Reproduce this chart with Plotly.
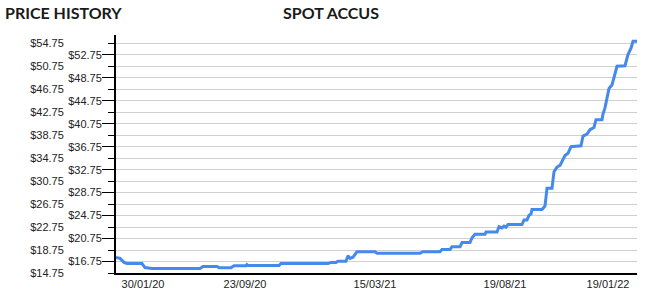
import plotly.graph_objects as go

# observation index (position along the series) and spot price
obs = [0, 4, 8, 11, 26, 29, 36, 84, 87, 101, 103, 115, 118, 130, 131, 132, 163, 165,
       212, 215, 220, 222, 230, 232, 234, 237, 241, 259, 261, 304, 307, 324, 326, 334,
       336, 344, 346, 354, 356, 359, 369, 370, 381, 383, 386, 388, 390, 392, 406, 408,
       411, 413, 415, 416, 426, 429, 431, 436, 438, 441, 444, 449, 452, 455, 465, 467,
       471, 474, 478, 480, 486, 487, 489, 491, 493, 496, 498, 501, 509, 511, 512, 515,
       517, 521]
price = [17.45, 17.3, 16.6, 16.4, 16.4, 15.7, 15.55, 15.55, 15.9, 15.9, 15.65, 15.65,
         16.0, 16.0, 16.2, 16.05, 16.05, 16.4, 16.4, 16.6, 16.6, 16.8, 16.8, 17.75, 17.3,
         17.5, 18.45, 18.45, 18.2, 18.2, 18.45, 18.45, 18.85, 18.85, 19.3, 19.3, 20.05,
         20.05, 20.9, 21.5, 21.5, 21.9, 21.9, 22.8, 22.6, 22.9, 22.7, 23.2, 23.2, 24.0,
         24.0, 24.8, 25.0, 25.8, 25.8, 26.4, 29.5, 29.5, 32.4, 33.2, 33.5, 35.2, 35.6,
         36.75, 36.9, 38.6, 38.95, 39.7, 40.1, 41.45, 41.45, 42.45, 43.5, 45.2, 46.9,
         47.5, 48.8, 50.75, 50.85, 51.9, 52.8, 53.9, 55.1, 55.1]

x_tick_pos = [27, 129, 259, 389, 492]
x_tick_text = ["30/01/20", "23/09/20", "15/03/21", "19/08/21", "19/01/22"]

y_ticks_inner = [16.75, 20.75, 24.75, 28.75, 32.75, 36.75, 40.75, 44.75, 48.75, 52.75]
y_ticks_outer = [14.75, 18.75, 22.75, 26.75, 30.75, 34.75, 38.75, 42.75, 46.75, 50.75, 54.75]

W, H = 656, 301
L, R, T, B = 116, 19, 35, 28
pw = W - L - R

tick_font = dict(family="Liberation Sans, Arial, sans-serif", size=11, color="#222222")

fig = go.Figure()
fig.add_trace(go.Scatter(x=obs, y=price, mode="lines",
                         line=dict(color="#4589ea", width=3), hoverinfo="skip"))
fig.add_trace(go.Scatter(x=[obs[0]], y=[price[0]], yaxis="y2", mode="markers",
                         marker=dict(opacity=0), hoverinfo="skip"))

yr = [14.75, 56.2]
fig.update_layout(
    width=W, height=H, margin=dict(l=L, r=R, t=T, b=B, pad=0),
    paper_bgcolor="white", plot_bgcolor="white", showlegend=False,
    xaxis=dict(range=[0, 521], tickvals=x_tick_pos, ticktext=x_tick_text,
               showgrid=False, zeroline=False, showline=True, linecolor="black",
               linewidth=2, ticks="", tickfont=tick_font),
    yaxis=dict(range=yr, tickvals=y_ticks_inner,
               ticktext=[f"${v:.2f}" for v in y_ticks_inner],
               showgrid=True, gridcolor="#d0d0d0", gridwidth=1, zeroline=False,
               showline=True, linecolor="black", linewidth=2,
               ticks="outside", ticklen=12, tickcolor="black", tickwidth=1,
               ticklabelstandoff=-2, tickfont=tick_font),
    yaxis2=dict(range=yr, overlaying="y", side="left", tickvals=y_ticks_outer,
                ticktext=[f"${v:.2f}" for v in y_ticks_outer],
                showgrid=True, gridcolor="#d0d0d0", gridwidth=1, zeroline=False,
                showline=False, ticks="outside", ticklen=7, tickcolor="black",
                tickwidth=1, ticklabelstandoff=42, tickfont=tick_font),
)

title_font = dict(family="Lato, sans-serif", size=16, color="#1a1a1a")
fig.add_annotation(text="<b>PRICE HISTORY</b>", xref="paper", yref="paper",
                   x=(3 - L) / pw, y=1 + (T - 13) / (H - T - B), xanchor="left",
                   yanchor="middle", showarrow=False, font=title_font)
fig.add_annotation(text="<b>SPOT ACCUS</b>", xref="paper", yref="paper",
                   x=(331 - L) / pw, y=1 + (T - 13) / (H - T - B), xanchor="center",
                   yanchor="middle", showarrow=False, font=title_font)

fig.write_html("out.html")
